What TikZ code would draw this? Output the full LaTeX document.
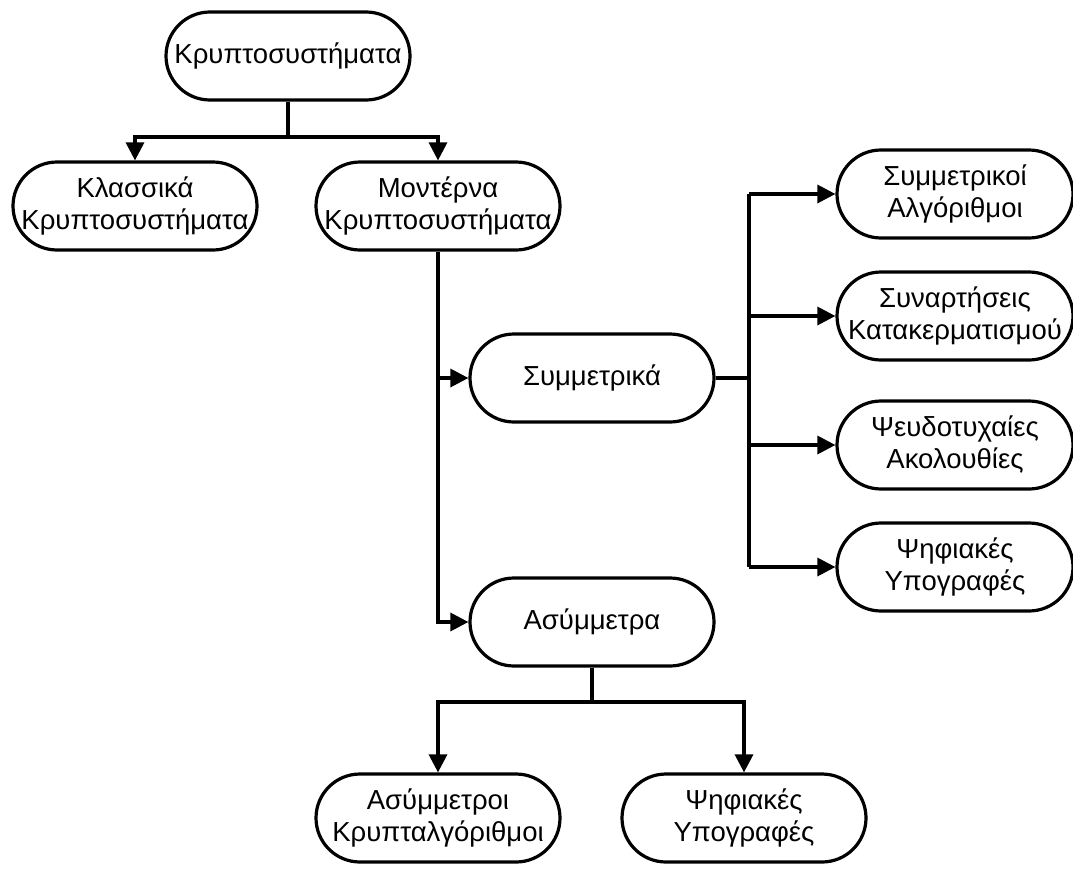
\documentclass[tikz,border=0pt]{standalone}
\usepackage{fontspec}
\setmainfont{Liberation Sans}
\usetikzlibrary{arrows.meta}
\begin{document}
\begin{tikzpicture}[x=1pt,y=-1pt,
  box/.style={draw, line width=3.2pt, rounded corners=44pt, minimum width=244pt, minimum height=88pt,
    align=center, inner sep=0pt, font=\fontsize{27.5}{32}\selectfont},
  rbox/.style={box, minimum width=236pt},
  conn/.style={line width=3.2pt},
  arr/.style={conn, -{Triangle[length=18pt,width=18pt]}}]
\useasboundingbox (0,0) rectangle (1073,870);
\node[box] (top) at (288,56) {Κρυπτοσυστήματα};
\node[box] (klass) at (135,206) {Κλασσικά\\Κρυπτοσυστήματα};
\node[box] (mod) at (438,206) {Μοντέρνα\\Κρυπτοσυστήματα};
\node[box] (sym) at (592,378) {Συμμετρικά};
\node[box] (asym) at (592,622) {Ασύμμετρα};
\node[rbox] (r1) at (955,194) {Συμμετρικοί\\Αλγόριθμοι};
\node[rbox] (r2) at (955,316) {Συναρτήσεις\\Κατακερματισμού};
\node[rbox] (r3) at (955,445) {Ψευδοτυχαίες\\Ακολουθίες};
\node[rbox] (r4) at (955,567) {Ψηφιακές\\Υπογραφές};
\node[box] (b1) at (438,818) {Ασύμμετροι\\Κρυπταλγόριθμοι};
\node[box] (b2) at (744,818) {Ψηφιακές\\Υπογραφές};
\coordinate (j1) at (288,137);
\coordinate (j2) at (749,378);
\coordinate (j3) at (592,702);
\draw[conn] (top.south) -- (j1);
\draw[arr] (j1) -| (klass.north);
\draw[arr] (j1) -| (mod.north);
\draw[arr] (mod.south) |- (asym.west);
\draw[arr] (mod.south |- sym.west) -- (sym.west);
\draw[conn] (sym.east) -- (j2);
\draw[conn] (j2 |- r1.west) -- (j2 |- r4.west);
\draw[arr] (j2 |- r1.west) -- (r1.west);
\draw[arr] (j2 |- r2.west) -- (r2.west);
\draw[arr] (j2 |- r3.west) -- (r3.west);
\draw[arr] (j2 |- r4.west) -- (r4.west);
\draw[conn] (asym.south) -- (j3);
\draw[arr] (j3) -| (b1.north);
\draw[arr] (j3) -| (b2.north);
\end{tikzpicture}
\end{document}
